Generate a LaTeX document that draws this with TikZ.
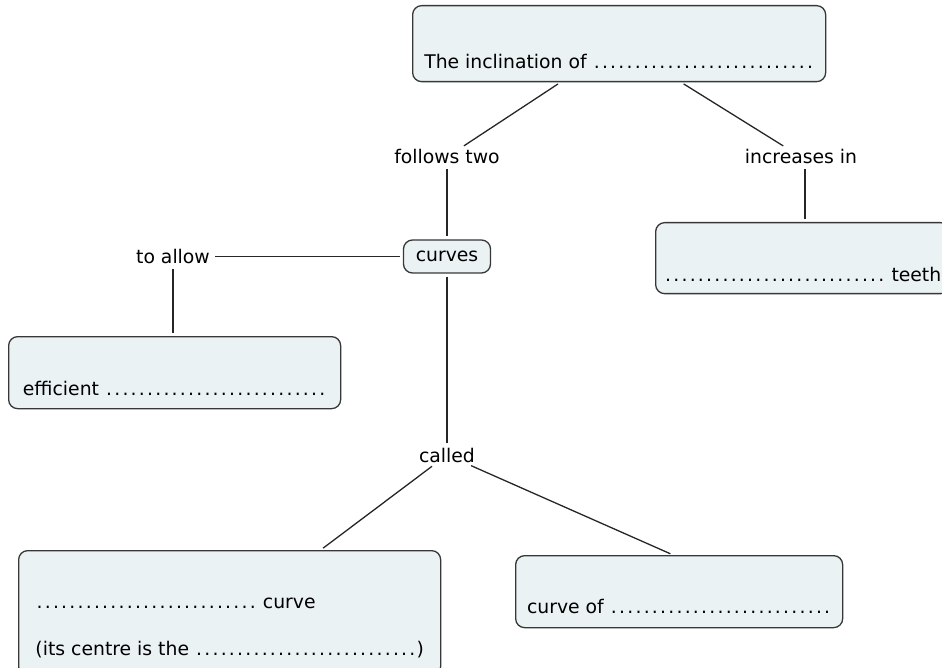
\documentclass[tikz,border=0pt]{standalone}
\usepackage{fontspec}
\setmainfont{DejaVu Sans}
\usepackage{xcolor}
\usetikzlibrary{calc}

\definecolor{conceptfill}{RGB}{235,242,244}
\definecolor{conceptline}{RGB}{55,55,55}
\newcommand{\blank}{\foreach \k in {1,...,27}{\makebox[8.2pt]{.}}}

\tikzset{
  concept/.style={draw=conceptline,line width=1.3pt,fill=conceptfill,rounded corners=9pt,
    inner sep=0pt,anchor=north west},
  phrase/.style={inner sep=2pt,anchor=base},
  link/.style={line width=1.3pt,draw=black!85,shorten <=3pt,shorten >=3pt}
}

\begin{document}
\begin{tikzpicture}[x=1pt,y=1pt,font=\fontsize{18.8}{22}\selectfont]
  \useasboundingbox (0,0) rectangle (942,-668);
  \node[concept,minimum width=413,text height=63,text depth=13] at (412,-5)(incl){The inclination of \blank};
  \node[concept,minimum width=294,text height=59,text depth=12] at (655,-222)(teeth){\blank{} teeth};
  \node[concept,minimum width=332,text height=59,text depth=13] at (8,-336)(eff){efficient \blank};
  \node[concept,minimum width=422,text height=105,text depth=20,align=left] at (18,-550)(centre)
       {\blank{} curve\\[25pt](its centre is the \blank)};
  \node[concept,minimum width=327,text height=58,text depth=14] at (515,-555)(curveof){curve of \blank};
  \node[concept,anchor=center,minimum width=87,minimum height=33] at (447,-256.5)(curves){curves};

  \node[phrase] at (447,-164)(follows){follows two};
  \node[phrase] at (801,-164)(incr){increases in};
  \node[phrase] at (173,-264)(allow){to allow};
  \node[phrase] at (447,-462)(called){called};

  \draw[link](incl)--(follows);
  \draw[link](incl)--(incr);
  \draw[link](follows)--(follows |- curves.north);
  \draw[link]([xshift=4pt]incr.south)--([xshift=4pt]incr.south |- teeth.north);
  \draw[link](curves)--(allow.east |- curves);
  \draw[link](allow)--(allow |- eff.north);
  \draw[link](curves)--(called);
  \draw[link](called)--([xshift=91pt]centre.north);
  \draw[link](called)--([xshift=-6pt]curveof.north);
\end{tikzpicture}
\end{document}
